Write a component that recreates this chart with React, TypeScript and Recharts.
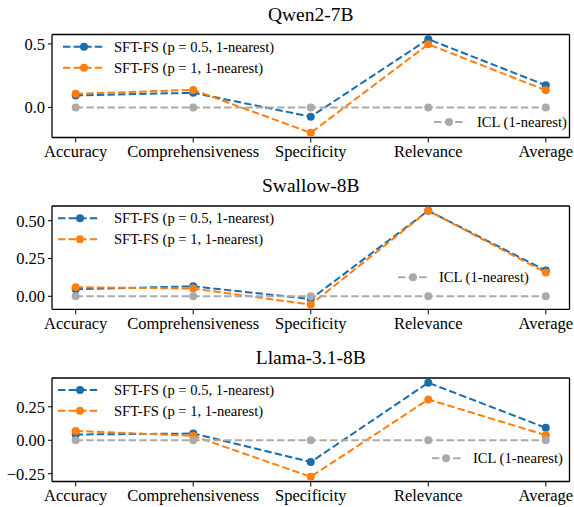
import React from 'react'
import { LineChart, Line, XAxis, YAxis, Legend } from 'recharts'

const categories = ['Accuracy', 'Comprehensiveness', 'Specificity', 'Relevance', 'Average']

const qwenP05 = [0.094, 0.115, -0.073, 0.537, 0.174]
const qwenP1 = [0.107, 0.138, -0.2, 0.497, 0.135]
const qwenIcl = [0, 0, 0, 0, 0]

const swallowP05 = [0.047, 0.066, -0.018, 0.566, 0.17]
const swallowP1 = [0.06, 0.051, -0.055, 0.566, 0.157]
const swallowIcl = [0, 0, 0, 0, 0]

const llamaP05 = [0.043, 0.05, -0.163, 0.43, 0.093]
const llamaP1 = [0.07, 0.033, -0.273, 0.305, 0.038]
const llamaIcl = [0, 0, 0, 0, 0]

const qwenTicks = [0, 0.5]
const swallowTicks = [0, 0.25, 0.5]
const llamaTicks = [-0.25, 0, 0.25]

const BLUE = '#1a6dab'
const ORANGE = '#ff7f0e'
const GRAY = '#aaaaaa'
const FONT = '"Liberation Serif", "DejaVu Serif", serif'
const W = 574

const names: Record<string, string> = {
  p05: 'SFT-FS (p = 0.5, 1-nearest)',
  p1: 'SFT-FS (p = 1, 1-nearest)',
  icl: 'ICL (1-nearest)',
}
const colors: Record<string, string> = { p05: BLUE, p1: ORANGE, icl: GRAY }

type LegendPos = { y: number; x0: number; x1: number; mx: number; tx: number }

interface PanelProps {
  title: string
  titleY: number
  top: number
  height: number
  mTop: number
  mBottom: number
  p05: number[]
  p1: number[]
  icl: number[]
  ticks: number[]
  digits: number
  legend: Record<string, LegendPos>
}

function Panel({ title, titleY, top, height, mTop, mBottom, p05, p1, icl, ticks, digits, legend }: PanelProps) {
  const rows = categories.map((name, i) => ({ name, p05: p05[i], p1: p1[i], icl: icl[i] }))
  const all = [...p05, ...p1, ...icl]
  const lo = Math.min(...all)
  const hi = Math.max(...all)
  const pad = (hi - lo) * 0.05
  const fmt = (v: number) => v.toFixed(digits).replace('-', '\u2212')

  const renderLegend = (props: any) => {
    const payload = props.payload || []
    return (
      <svg width={W} height={height} style={{ pointerEvents: 'none', overflow: 'visible' }}>
        {payload.map((entry: any) => {
          const key = entry.dataKey as string
          const pos = legend[key]
          if (!pos) return null
          const c = colors[key]
          return (
            <g key={key}>
              <line x1={pos.x0} x2={pos.x1} y1={pos.y} y2={pos.y} stroke={c} strokeWidth={2} strokeDasharray="7.4 3.2" />
              <circle cx={pos.mx} cy={pos.y} r={4} fill={c} />
              <text
                x={pos.tx}
                y={pos.y}
                dominantBaseline="central"
                style={{ fontSize: 14.6, fontFamily: FONT, fill: '#000' }}
              >
                {entry.value}
              </text>
            </g>
          )
        })}
      </svg>
    )
  }

  const tickStyle = { fontSize: 16.5, fill: '#000', style: { fontFamily: FONT } }
  const axisLine = { stroke: '#000', strokeWidth: 1.3 }

  return (
    <div style={{ position: 'absolute', left: 0, top, width: W, height, fontFamily: FONT }}>
      <div
        style={{
          position: 'absolute',
          left: 52,
          width: 517.5,
          top: titleY - 17,
          textAlign: 'center',
          fontFamily: FONT,
          fontSize: 19.5,
          lineHeight: '20px',
          color: '#000',
        }}
      >
        {title}
      </div>
      <LineChart
        width={W}
        height={height}
        data={rows}
        margin={{ top: mTop - 1, right: 3.5, bottom: 0, left: 0 }}
        style={{ fontFamily: FONT }}
      >
        <XAxis
          dataKey="name"
          interval={0}
          padding={{ left: 23.7, right: 23.7 }}
          tick={tickStyle}
          tickSize={5}
          tickMargin={3}
          tickLine={{ stroke: '#000', strokeWidth: 1 }}
          axisLine={axisLine}
          height={mBottom}
        />
        <XAxis
          xAxisId="top"
          dataKey="name"
          orientation="top"
          padding={{ left: 23.7, right: 23.7 }}
          tick={false}
          tickLine={false}
          axisLine={axisLine}
          height={1}
        />
        <YAxis
          type="number"
          domain={[lo - pad, hi + pad]}
          ticks={ticks}
          tickFormatter={fmt}
          tick={tickStyle}
          tickSize={4}
          tickMargin={3}
          tickLine={{ stroke: '#000', strokeWidth: 1 }}
          axisLine={axisLine}
          width={52}
          allowDataOverflow
        />
        <YAxis
          yAxisId="right"
          orientation="right"
          domain={[lo - pad, hi + pad]}
          tick={false}
          tickLine={false}
          axisLine={axisLine}
          width={1}
        />
        <Legend
          layout="horizontal"
          verticalAlign="middle"
          align="center"
          content={renderLegend}
          wrapperStyle={{ position: 'absolute', left: 0, top: 0, width: W, height }}
        />
        {(['p05', 'p1', 'icl'] as const).map((k) => (
          <Line
            key={k}
            dataKey={k}
            name={names[k]}
            stroke={colors[k]}
            strokeWidth={2}
            strokeDasharray="7.4 3.2"
            dot={{ r: 4, fill: colors[k], stroke: 'none', strokeDasharray: 'none' }}
            activeDot={false}
            isAnimationActive={false}
          />
        ))}
      </LineChart>
    </div>
  )
}

export default function App() {
  return (
    <div style={{ position: 'absolute', left: 0, top: 0, width: W, height: 507, background: '#fff' }}>
      <Panel
        title="Qwen2-7B"
        titleY={22}
        top={0}
        height={170}
        mTop={34.5}
        mBottom={32.5}
        p05={qwenP05}
        p1={qwenP1}
        icl={qwenIcl}
        ticks={qwenTicks}
        digits={1}
        legend={{
          p05: { y: 46.7, x0: 63, x1: 104, mx: 84, tx: 114 },
          p1: { y: 67.7, x0: 63, x1: 104, mx: 84, tx: 114 },
          icl: { y: 122, x0: 434, x1: 466, mx: 449, tx: 477 },
        }}
      />
      <Panel
        title="Swallow-8B"
        titleY={23}
        top={170}
        height={170}
        mTop={36}
        mBottom={30.7}
        p05={swallowP05}
        p1={swallowP1}
        icl={swallowIcl}
        ticks={swallowTicks}
        digits={2}
        legend={{
          p05: { y: 48.3, x0: 58, x1: 100, mx: 80, tx: 114 },
          p1: { y: 69.3, x0: 58, x1: 100, mx: 80, tx: 114 },
          icl: { y: 107.3, x0: 398, x1: 429, mx: 413, tx: 439 },
        }}
      />
      <Panel
        title="Llama-3.1-8B"
        titleY={25}
        top={340}
        height={167}
        mTop={38}
        mBottom={25.5}
        p05={llamaP05}
        p1={llamaP1}
        icl={llamaIcl}
        ticks={llamaTicks}
        digits={2}
        legend={{
          p05: { y: 50, x0: 58, x1: 99, mx: 80, tx: 114 },
          p1: { y: 70.7, x0: 58, x1: 99, mx: 80, tx: 114 },
          icl: { y: 118.3, x0: 432, x1: 461, mx: 446, tx: 473 },
        }}
      />
    </div>
  )
}
